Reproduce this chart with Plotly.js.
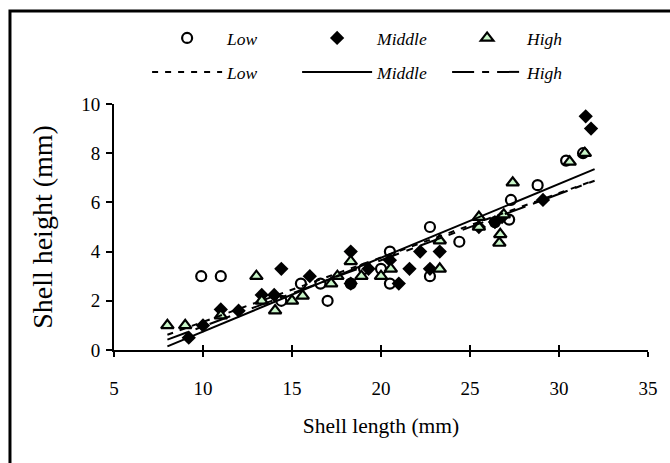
<!DOCTYPE html>
<html>
<head>
<meta charset="utf-8">
<script src="https://cdn.plot.ly/plotly-3.0.1.min.js"></script>
<style>html,body{margin:0;padding:0;background:#fff;}#chart{width:670px;height:463px;}</style>
</head>
<body>
<div id="chart"></div>
<script>
// Low group (open circles)
const lowX = [9.9, 11.0, 14.4, 15.5, 16.6, 17.0, 18.3, 19.05, 20.0, 20.5, 20.5, 22.75, 22.75, 24.4, 26.4, 27.2, 27.3, 28.8, 30.4, 31.35];
const lowY = [3.0, 3.0, 2.0, 2.7, 2.7, 2.0, 2.7, 3.3, 3.3, 4.0, 2.7, 5.0, 3.0, 4.4, 5.2, 5.3, 6.1, 6.7, 7.7, 8.0];
// Middle group (diamonds)
const midX = [9.2, 10.0, 11.0, 12.0, 13.3, 14.0, 14.4, 16.0, 18.3, 18.3, 19.3, 20.5, 21.0, 21.6, 22.2, 22.75, 23.3, 25.5, 26.4, 26.8, 29.1, 31.5, 31.8];
const midY = [0.5, 1.0, 1.65, 1.6, 2.24, 2.24, 3.3, 3.0, 4.0, 2.7, 3.3, 3.65, 2.7, 3.3, 4.0, 3.3, 4.0, 5.0, 5.2, 5.4, 6.1, 9.5, 9.0];
// High group (triangles)
const highX = [8.0, 9.0, 11.0, 13.0, 13.3, 14.05, 15.0, 15.6, 17.2, 17.55, 18.3, 18.9, 20.0, 20.55, 23.3, 23.3, 25.5, 25.5, 26.65, 26.7, 26.9, 27.4, 30.6, 31.45];
const highY = [1.0, 1.0, 1.4, 3.0, 2.0, 1.6, 2.0, 2.2, 2.7, 3.0, 3.6, 3.0, 3.0, 3.3, 3.3, 4.45, 5.4, 5.0, 4.35, 4.7, 5.5, 6.8, 7.65, 8.0];
// Fitted lines (end points)
const lowLineX = [8, 32];
const lowLineY = [0.62, 6.9];
const midLineX = [8, 32];
const midLineY = [0.15, 7.35];
const highLineX = [8, 32];
const highLineY = [0.42, 6.88];
const groupNames = ['Low', 'Middle', 'High'];
const xTicks = [5, 10, 15, 20, 25, 30, 35];
const yTicks = [0, 2, 4, 6, 8, 10];

const serif = 'Liberation Serif';

const traces = [
  {x: lowX, y: lowY, mode: 'markers', name: groupNames[0], legend: 'legend',
   marker: {symbol: 'circle-open', size: 10, color: '#000', line: {width: 2.2, color: '#000'}}},
  {x: midX, y: midY, mode: 'markers', name: groupNames[1], legend: 'legend',
   marker: {symbol: 'diamond', size: 11, color: '#000', line: {width: 0}}},
  {x: highX, y: highY, mode: 'markers', name: groupNames[2], legend: 'legend',
   marker: {symbol: 'triangle-up', size: 11, color: '#c8f5c8', line: {width: 2.2, color: '#000'}}},
  {x: lowLineX, y: lowLineY, mode: 'lines', name: groupNames[0], legend: 'legend2',
   line: {color: '#000', width: 2, dash: '6px,7px'}},
  {x: midLineX, y: midLineY, mode: 'lines', name: groupNames[1], legend: 'legend2',
   line: {color: '#000', width: 2}},
  {x: highLineX, y: highLineY, mode: 'lines', name: groupNames[2], legend: 'legend2',
   line: {color: '#000', width: 2, dash: '22px,8px,7px,8px'}}
];

function legendCfg(y) {
  return {
    orientation: 'h', xanchor: 'left', yanchor: 'middle', x: 0.062, y: y,
    font: {family: serif, size: 17.5, color: '#000', style: 'italic'},
    itemwidth: 70, entrywidth: 65, entrywidthmode: 'pixels',
    bgcolor: 'rgba(0,0,0,0)', borderwidth: 0, traceorder: 'normal'
  };
}

const layout = {
  width: 670, height: 463,
  margin: {l: 114, r: 22, t: 104, b: 113},
  paper_bgcolor: '#fff', plot_bgcolor: '#fff',
  font: {family: serif, color: '#000', size: 16},
  showlegend: true,
  legend: legendCfg(1.268),
  legend2: legendCfg(1.13),
  xaxis: {
    range: [5, 35], tickvals: xTicks, ticktext: xTicks.map(String),
    showgrid: false, zeroline: false, showline: true, linecolor: '#000', linewidth: 2,
    ticks: 'outside', ticklen: 5, tickwidth: 2, tickcolor: '#000', ticklabelstandoff: 15,
    tickfont: {family: serif, size: 19, color: '#000'},
    title: {text: 'Shell length (mm)', font: {family: serif, size: 21.5, color: '#000'}, standoff: 20}
  },
  xaxis2: {
    range: [5, 35], overlaying: 'x', anchor: 'y', side: 'bottom', tickvals: xTicks,
    showgrid: false, zeroline: false, showline: false, showticklabels: false,
    ticks: 'inside', ticklen: 5, tickwidth: 2, tickcolor: '#000'
  },
  yaxis: {
    range: [0, 10], tickvals: yTicks, ticktext: yTicks.map(String),
    showgrid: false, zeroline: false, showline: true, linecolor: '#000', linewidth: 2,
    ticks: 'outside', ticklen: 6, tickwidth: 2, tickcolor: '#000', ticklabelstandoff: 2,
    tickfont: {family: serif, size: 19, color: '#000'},
    title: {text: 'Shell height (mm)', font: {family: serif, size: 28, color: '#000'}, standoff: 20}
  },
  shapes: [
    {type: 'rect', xref: 'paper', yref: 'paper', x0: -0.1948, x1: 1.1, y0: -0.62, y1: 1.378,
     line: {color: '#000', width: 3}, fillcolor: 'rgba(0,0,0,0)', layer: 'above'}
  ]
};

// invisible trace so that the overlaid axis (inner tick halves) is drawn
traces.push({x: [5], y: [0], xaxis: 'x2', yaxis: 'y', mode: 'markers', showlegend: false,
  hoverinfo: 'skip', marker: {opacity: 0}});

Plotly.newPlot('chart', traces, layout, {displayModeBar: false, staticPlot: true});
</script>
</body>
</html>
